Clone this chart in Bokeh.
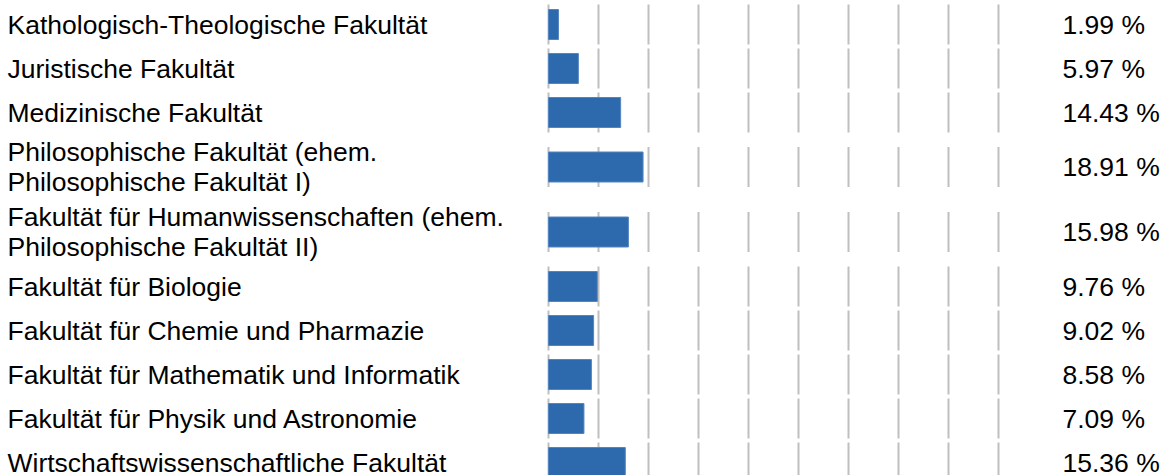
from bokeh.plotting import figure
from bokeh.models import Range1d, ColumnDataSource
from bokeh.core.properties import value
from bokeh.embed import file_html
from bokeh.resources import INLINE

# ---- data ----
faculties = [
    "Kathologisch-Theologische Fakultät",
    "Juristische Fakultät",
    "Medizinische Fakultät",
    "Philosophische Fakultät (ehem.\nPhilosophische Fakultät I)",
    "Fakultät für Humanwissenschaften (ehem.\nPhilosophische Fakultät II)",
    "Fakultät für Biologie",
    "Fakultät für Chemie und Pharmazie",
    "Fakultät für Mathematik und Informatik",
    "Fakultät für Physik und Astronomie",
    "Wirtschaftswissenschaftliche Fakultät",
]
shares = [1.99, 5.97, 14.43, 18.91, 15.98, 9.76, 9.02, 8.58, 7.09, 15.36]
grid_ticks = [0, 10, 20, 30, 40, 50, 60, 70, 80, 90]

# ---- layout (pixel geometry) ----
W, H = 1164, 475
ZERO_PX = 548          # pixel position of 0 %
PX_PER_UNIT = 5.0      # pixels per percent
FONT = "Liberation Sans"
FSIZE = "26.5px"

# row centres computed from number of label lines
centers = []
y = 2.0
for lab in faculties:
    n = lab.count("\n") + 1
    h = 44 + 21 * (n - 1)
    centers.append(y + h / 2)
    y += h

x0 = -ZERO_PX / PX_PER_UNIT
x1 = (W - ZERO_PX) / PX_PER_UNIT

p = figure(width=W, height=H, output_backend="svg", toolbar_location=None,
           x_range=Range1d(x0, x1), y_range=Range1d(H, 0),
           min_border=0, min_border_left=0, min_border_right=0,
           min_border_top=0, min_border_bottom=0)
p.axis.visible = False
p.xgrid.visible = False
p.ygrid.visible = False
p.outline_line_color = None
p.background_fill_color = "white"
p.border_fill_color = "white"

# segmented vertical gridlines, one segment per row
gx, gy0, gy1 = [], [], []
for c in centers:
    for t in grid_ticks:
        gx.append(t)
        gy0.append(c - 20)
        gy1.append(c + 20)
p.segment(x0=gx, y0=gy0, x1=gx, y1=gy1, line_color="#bfbfbf", line_width=2)

src = ColumnDataSource(dict(
    y=centers, v=shares, lab=faculties,
    vlab=[f"{s:.2f} %" for s in shares],
))

p.hbar(y="y", left=0, right="v", height=30, source=src,
       fill_color="#2c6aad", line_color="#5585c0", line_width=1)

lab_x = (7 - ZERO_PX) / PX_PER_UNIT
p.text(x=lab_x, y="y", text="lab", source=src,
       text_font=value(FONT), text_font_size=FSIZE, text_color="#000000",
       text_align="left", text_baseline="middle", text_line_height=1.0)

val_x = (1062 - ZERO_PX) / PX_PER_UNIT
p.text(x=val_x, y="y", text="vlab", source=src,
       text_font=value(FONT), text_font_size=FSIZE, text_color="#000000",
       text_align="left", text_baseline="middle")

open("out.html", "w").write(file_html(p, INLINE))
